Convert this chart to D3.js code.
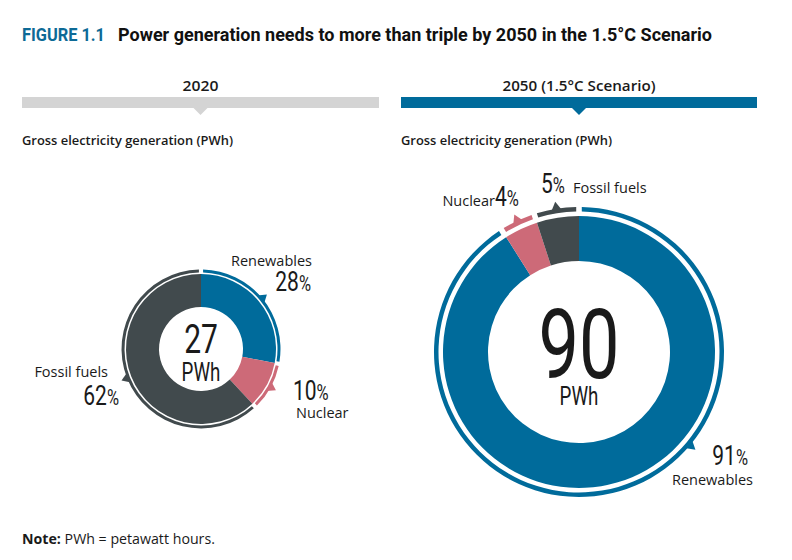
<!DOCTYPE html>
<html lang="en">
<head>
  <meta charset="UTF-8">
  <title>Figure 1.1 Power generation</title>
  <script src="https://d3js.org/d3.v7.min.js"></script>
  <style>
    body { margin: 0; background: #fff; }
    svg { display: block; }
    .cond { font-family: Roboto, "Noto Sans", sans-serif; }
    .plain { font-family: "Open Sans", "Noto Sans", sans-serif; }
  </style>
</head>
<body>
  <div id="chart"></div>
  <script>
    // data
    const categories = ["Renewables", "Nuclear", "Fossil fuels"];
    const colors = ["#006b9b", "#cd6a78", "#414a4d"];
    const share2020 = [28, 10, 62];
    const share2050 = [91, 4, 5];
    const totals = [27, 90];
    const panelTitles = ["2020", "2050 (1.5°C Scenario)"];
    const unit = "PWh";
    const subTitle = "Gross electricity generation (PWh)";

    const width = 792, height = 560;
    const squeeze = 0.75; // condensed look for the big numbers
    const svg = d3.select("#chart").append("svg")
      .attr("width", width)
      .attr("height", height);

    // title, squeezed into the width it has in the figure
    svg.append("text")
      .attr("class", "cond")
      .attr("x", 22).attr("y", 41)
      .attr("font-size", 18).attr("font-weight", "bold")
      .attr("fill", "#0d6a96")
      .attr("textLength", 83).attr("lengthAdjust", "spacingAndGlyphs")
      .text("FIGURE 1.1");
    svg.append("text")
      .attr("class", "cond")
      .attr("x", 118).attr("y", 41)
      .attr("font-size", 18).attr("font-weight", "bold")
      .attr("fill", "#111")
      .attr("textLength", 594).attr("lengthAdjust", "spacingAndGlyphs")
      .text("Power generation needs to more than triple by 2050 in the 1.5°C Scenario");

    // condensed text helper
    function condText(x, y, anchor, size) {
      return svg.append("g")
        .attr("transform", `translate(${x},${y}) scale(${squeeze},1)`)
        .append("text")
        .attr("class", "cond")
        .attr("text-anchor", anchor)
        .attr("font-size", size)
        .attr("fill", "#1a1a1a");
    }

    // layout for the two panels
    const panels = [
      {
        values: share2020, total: totals[0], head: panelTitles[0], headLen: 36,
        x0: 22, x1: 379, barColor: "#d4d4d4",
        cx: 201, cy: 349, r0: 42, r1: 75, ringIn: 76.5, ringOut: 79.5,
        gap: 3, totalSize: 40, totalY: 353, unitSize: 25, unitY: 381,
        pointer: [null, null, null], tri: [11, 6],
        labels: [
          { name: [312, 266, "end"], pct: [311, 291, "end"] },
          { name: [296, 418, "start"], pct: [293, 400, "start"] },
          { name: [108, 377, "end"], pct: [119, 405, "end"] }
        ]
      },
      {
        values: share2050, total: totals[1], head: panelTitles[1], headLen: 153,
        x0: 401, x1: 757, barColor: "#006b9b",
        cx: 579, cy: 352, r0: 91, r1: 136, ringIn: 140.5, ringOut: 145,
        gap: 4, totalSize: 96, totalY: 378, unitSize: 25, unitY: 405,
        pointer: [130, null, null], tri: [13, 7],
        labels: [
          { name: [753, 485, "end"], pct: [748, 465, "end"] },
          { name: [495, 206, "end"], pct: [495, 206, "start"] },
          { name: [573, 193, "start"], pct: [541, 193, "start"] }
        ]
      }
    ];

    const pie = d3.pie().sort(null).value(d => d);

    panels.forEach(p => {
      const mid = (p.x0 + p.x1) / 2;

      // panel heading with bar and small pointer
      svg.append("text")
        .attr("class", "plain")
        .attr("x", mid - p.headLen / 2).attr("y", 91)
        .attr("font-size", 15).attr("font-weight", 600)
        .attr("fill", "#1a1a1a")
        .attr("textLength", p.headLen).attr("lengthAdjust", "spacingAndGlyphs")
        .text(p.head);
      svg.append("rect")
        .attr("x", p.x0).attr("y", 97)
        .attr("width", p.x1 - p.x0).attr("height", 11)
        .attr("fill", p.barColor);
      svg.append("path")
        .attr("d", `M${mid - 7},108 L${mid + 7},108 L${mid},115 Z`)
        .attr("fill", p.barColor);

      svg.append("text")
        .attr("class", "plain")
        .attr("x", p.x0).attr("y", 145)
        .attr("font-size", 13).attr("font-weight", 600)
        .attr("fill", "#1a1a1a")
        .attr("textLength", 211).attr("lengthAdjust", "spacingAndGlyphs")
        .text(subTitle);

      const g = svg.append("g")
        .attr("transform", `translate(${p.cx},${p.cy})`);

      const arcs = pie(p.values);

      // donut
      const arc = d3.arc().innerRadius(p.r0).outerRadius(p.r1);
      g.selectAll(".slice")
        .data(arcs)
        .enter()
        .append("path")
        .attr("class", "slice")
        .attr("fill", (d, i) => colors[i])
        .attr("d", arc);

      // thin outer ring with gaps
      const ring = d3.arc().innerRadius(p.ringIn).outerRadius(p.ringOut)
        .padAngle(p.gap / p.ringOut);
      g.selectAll(".ring")
        .data(arcs)
        .enter()
        .append("path")
        .attr("class", "ring")
        .attr("fill", (d, i) => colors[i])
        .attr("d", ring);

      // little triangles on the ring
      g.selectAll(".tri")
        .data(arcs)
        .enter()
        .append("path")
        .attr("class", "tri")
        .attr("fill", (d, i) => colors[i])
        .attr("d", (d, i) => {
          const a = p.pointer[i] != null ? p.pointer[i] * Math.PI / 180 : (d.startAngle + d.endAngle) / 2;
          const hw = p.tri[0] / 2 / p.ringOut;
          const pt = (ang, r) => [Math.sin(ang) * r, -Math.cos(ang) * r];
          const b1 = pt(a - hw, p.ringIn + 1), b2 = pt(a + hw, p.ringIn + 1);
          const tip = pt(a, p.ringOut + p.tri[1]);
          return `M${b1}L${tip}L${b2}Z`;
        });

      // centre total
      condText(p.cx, p.totalY, "middle", p.totalSize).text(p.total);
      condText(p.cx, p.unitY, "middle", p.unitSize).text(unit);

      // category labels
      p.labels.forEach((l, i) => {
        svg.append("text")
          .attr("class", "plain")
          .attr("x", l.name[0]).attr("y", l.name[1])
          .attr("text-anchor", l.name[2])
          .attr("font-size", 14.5)
          .attr("fill", "#1a1a1a")
          .text(categories[i]);
        const t = condText(l.pct[0], l.pct[1], l.pct[2], 28);
        t.append("tspan").text(p.values[i]);
        t.append("tspan").attr("font-size", 22).text("%");
      });
    });

    // note
    const note = svg.append("text")
      .attr("class", "plain")
      .attr("x", 22).attr("y", 544)
      .attr("font-size", 14.2)
      .attr("fill", "#1a1a1a");
    note.append("tspan").attr("font-weight", "bold").text("Note:");
    note.append("tspan").text(" PWh = petawatt hours.");
  </script>
</body>
</html>
